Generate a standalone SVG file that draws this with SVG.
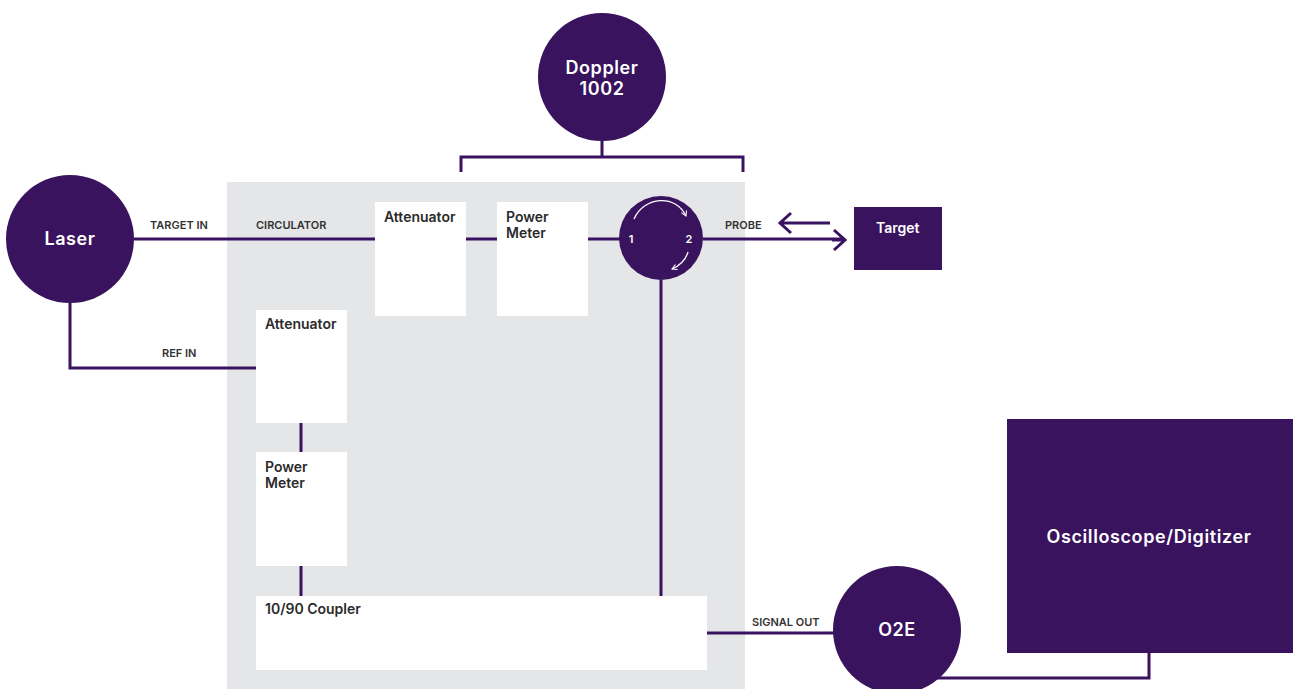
<svg xmlns="http://www.w3.org/2000/svg" width="1293" height="689" viewBox="0 0 1293 689">
<defs>
<style>
.p{fill:#39135e}
.box{fill:#ffffff}
.ln{stroke:#3a1360;stroke-width:3;fill:none}
.wl{stroke:#ffffff;stroke-width:1.3;fill:none}
.lbl{font-family:"Inter","Liberation Sans",sans-serif;font-size:11px;font-weight:600;fill:#333333}
.bt{font-family:"Inter","Liberation Sans",sans-serif;font-size:14px;font-weight:600;fill:#2b2b2b}
.ct{font-family:"Inter","Liberation Sans",sans-serif;font-size:18px;font-weight:600;fill:#ffffff;text-anchor:middle;letter-spacing:0.6px}
.nt{font-family:"Inter","Liberation Sans",sans-serif;font-size:11px;font-weight:600;fill:#ffffff;text-anchor:middle}
</style>
<marker id="wh" viewBox="0 0 10 10" refX="8" refY="5" markerWidth="7" markerHeight="7" orient="auto" markerUnits="userSpaceOnUse">
<path d="M1,1 L8,5 L1,9" fill="none" stroke="#ffffff" stroke-width="1.5"/>
</marker>
</defs>
<rect x="0" y="0" width="1293" height="689" fill="#ffffff"/>
<rect id="panel" x="227" y="182" width="518" height="507" fill="#e5e6e8"/>

<g id="connectors">
<path class="ln" d="M602,141 V157 M461,172 V157 H743 V172"/>
<path class="ln" d="M134,239 H375 M466,239 H497 M588,239 H620"/>
<path class="ln" d="M703,239 H843"/>
<path class="ln" d="M832,240 L844,240 M834,230 L845,240 L834,250" stroke-linejoin="miter"/>
<path class="ln" d="M830,223 H780 M791,213 L780,223 L791,233"/>
<path class="ln" d="M70,303 V368 H256"/>
<path class="ln" d="M301,423 V452 M301,566 V596"/>
<path class="ln" d="M661,280 V596"/>
<path class="ln" d="M707,633 H834"/>
<path class="ln" d="M935,678 H1149 V653"/>
</g>

<g id="doppler"><circle class="p" cx="602" cy="77" r="64"/><text class="ct" x="602" y="74">Doppler</text><text class="ct" x="602" y="95">1002</text></g>
<g id="laser"><circle class="p" cx="70" cy="239" r="64"/><text class="ct" x="70" y="245">Laser</text></g>
<g id="attenuator1"><rect class="box" x="375" y="202" width="91" height="114"/><text class="bt" x="384" y="222">Attenuator</text></g>
<g id="powermeter1"><rect class="box" x="497" y="202" width="91" height="114"/><text class="bt" x="506" y="222">Power</text><text class="bt" x="506" y="238">Meter</text></g>
<g id="circulator"><circle class="p" cx="661" cy="238" r="42"/>
<path class="wl" d="M634,219 C644,196 676,194 686,216" marker-end="url(#wh)"/>
<path class="wl" d="M688,252 C686,259 681,265 672,269" marker-end="url(#wh)"/>
<text class="nt" x="631" y="243">1</text><text class="nt" x="689" y="243">2</text></g>
<g id="target"><rect class="p" x="854" y="207" width="88" height="63"/><text class="bt" x="876" y="233" style="fill:#ffffff">Target</text></g>
<g id="attenuator2"><rect class="box" x="256" y="310" width="91" height="113"/><text class="bt" x="265" y="329">Attenuator</text></g>
<g id="powermeter2"><rect class="box" x="256" y="452" width="91" height="114"/><text class="bt" x="265" y="472">Power</text><text class="bt" x="265" y="488">Meter</text></g>
<g id="coupler"><rect class="box" x="256" y="596" width="451" height="74"/><text class="bt" x="265" y="614">10/90 Coupler</text></g>
<g id="o2e"><circle class="p" cx="897" cy="630" r="64"/><text class="ct" x="897" y="636">O2E</text></g>
<g id="scope"><rect class="p" x="1007" y="419" width="286" height="234"/><text class="ct" x="1149" y="543">Oscilloscope/Digitizer</text></g>

<g id="labels">
<text class="lbl" x="150" y="229">TARGET IN</text>
<text class="lbl" x="256" y="229">CIRCULATOR</text>
<text class="lbl" x="162" y="357">REF IN</text>
<text class="lbl" x="725" y="229">PROBE</text>
<text class="lbl" x="752" y="626">SIGNAL OUT</text>
</g>
</svg>
